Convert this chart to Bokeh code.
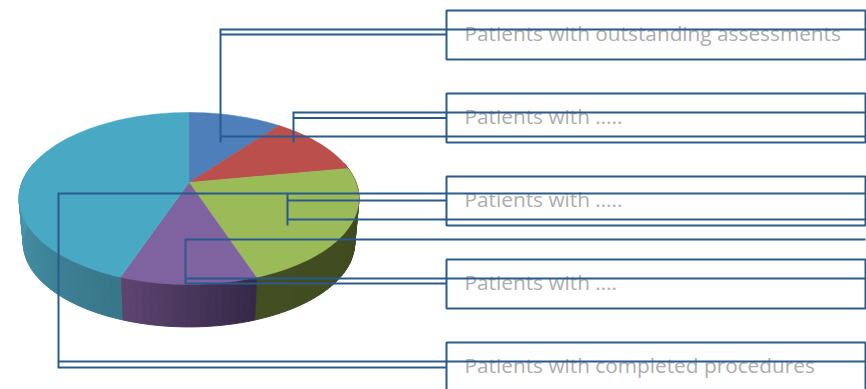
import math
from bokeh.plotting import figure
from bokeh.models import Range1d
from bokeh.core.properties import value
from bokeh.embed import file_html
from bokeh.resources import INLINE

# Data
slice_names = ["Patients with outstanding assessments", "Patients with …..", "Patients with …..",
               "Patients with ….", "Patients with completed procedures"]
slice_values = [10.6, 11.6, 22.4, 10.9, 44.5]
top_colors = ["#4f7fbb", "#bb4f4c", "#9bbb59", "#7f62a0", "#49a8c3"]
side_right = ["#3f6594", "#8f3c3a", "#3e4a1f", "#352848", "#387689"]
side_left = ["#3f6594", "#8f3c3a", "#424d22", "#5f4672", "#4b9db6"]

# Layout, in page pixels
CX, APEX_Y, A, B, K = 188.5, 182.0, 167.0, 83.0, 0.186
DEPTH_SCALE, DEPTH = 0.975, 45.0
LINE = "#2a5a8c"
LW = 2.0
BOX_X0, BOX_X1 = 446, 865
box_tops = [10, 93, 176, 259, 342]
box_h = 49
text_baselines = [32, 115, 198, 281, 364]
TEXT_X = 464
leader_paths = [
    [(865, 29), (220, 29), (220, 142)], [(446, 34), (220, 34)], [(220, 136), (865, 136)],
    [(865, 112), (293, 112), (293, 142)], [(446, 117.5), (293, 117.5)],
    [(865, 193), (58, 193), (58, 367), (446, 367)], [(58, 361), (865, 361)],
    [(287, 193), (287, 225)], [(287, 200), (446, 200)], [(287, 219), (865, 219)],
    [(865, 239), (185, 239), (185, 283), (446, 283)], [(185, 278), (865, 278)],
]


def project(theta, scale=1.0, dy=0.0):
    u, v = math.sin(theta), -math.cos(theta)
    w = 1 - K * v
    return CX + scale * A * u / w, APEX_Y + dy + scale * B * v / w


def mix(c1, c2, t):
    a = [int(c1[i:i + 2], 16) for i in (1, 3, 5)]
    b = [int(c2[i:i + 2], 16) for i in (1, 3, 5)]
    return "#%02x%02x%02x" % tuple(round(p + (q - p) * t) for p, q in zip(a, b))


total = sum(slice_values)
edges = [0.0]
for val in slice_values:
    edges.append(edges[-1] + val / total * 2 * math.pi)

side_xs, side_ys, side_cols = [], [], []
top_xs, top_ys = [], []
for i in range(len(slice_values)):
    t0, t1 = edges[i], edges[i + 1]
    n = max(2, int((t1 - t0) / math.radians(2)))
    angles = [t0 + (t1 - t0) * j / n for j in range(n + 1)]
    vis = [a for a in angles if -math.cos(a) > -0.25]
    for a0, a1 in zip(vis[:-1], vis[1:]):
        frac = (a0 - vis[0]) / max(vis[-1] - vis[0], 1e-6)
        # the angle grows clockwise, so along the front wall it runs right to left
        col = mix(side_right[i], side_left[i], frac)
        p0, p1 = project(a0), project(a1)
        q0, q1 = project(a0, DEPTH_SCALE, DEPTH), project(a1, DEPTH_SCALE, DEPTH)
        side_xs.append([p0[0], p1[0], q1[0], q0[0]])
        side_ys.append([p0[1], p1[1], q1[1], q0[1]])
        side_cols.append(col)
    pts = [project(a) for a in angles]
    top_xs.append([CX] + [q[0] for q in pts])
    top_ys.append([APEX_Y] + [q[1] for q in pts])

p = figure(width=866, height=389, output_backend="svg", toolbar_location=None,
           x_range=Range1d(0, 866), y_range=Range1d(389, 0),
           min_border=0, min_border_left=0, min_border_right=0, min_border_top=0, min_border_bottom=0)
p.axis.visible = False
p.grid.visible = False
p.outline_line_color = None
p.background_fill_color = "white"
p.border_fill_color = "white"

p.patches(side_xs, side_ys, fill_color=side_cols, line_color=side_cols, line_width=1)
p.patches(top_xs, top_ys, fill_color=top_colors, line_color=top_colors, line_width=0.5)

p.text([TEXT_X] * 5, text_baselines, text=slice_names, text_font=value("Open Sans"),
       text_font_size="20.8px", text_color="#adadad", text_baseline="alphabetic")

p.multi_line([[x for x, _ in path] for path in leader_paths],
             [[y for _, y in path] for path in leader_paths],
             line_color=LINE, line_width=LW, line_join="miter")
p.quad(left=[BOX_X0] * 5, right=[BOX_X1] * 5, top=box_tops, bottom=[t + box_h for t in box_tops],
       fill_color=None, line_color=LINE, line_width=LW)

open("out.html", "w").write(file_html(p, INLINE))
